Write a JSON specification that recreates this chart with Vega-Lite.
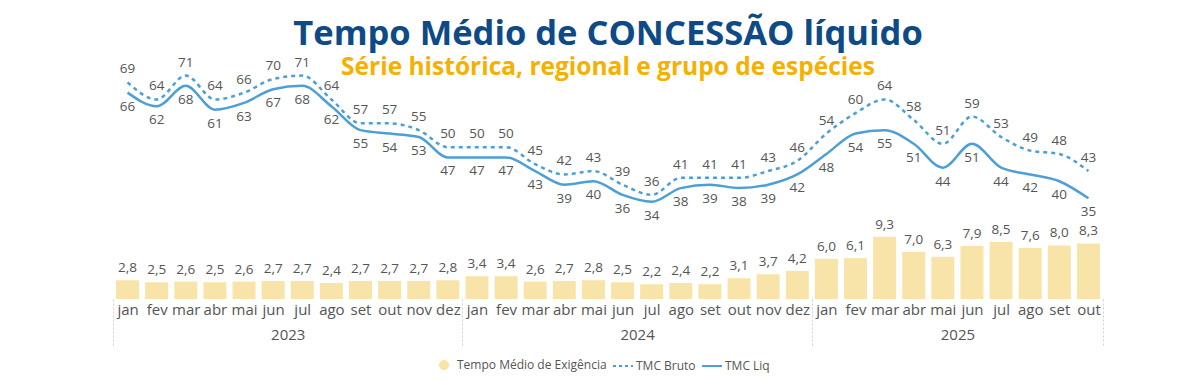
{
  "$schema": "https://vega.github.io/schema/vega-lite/v6.json",
  "width": 1000,
  "height": 205,
  "padding": {"left": 108, "top": 16, "right": 0, "bottom": 0},
  "config": {
    "view": {"stroke": null},
    "locale": {"number": {"decimal": ",", "thousands": ".", "grouping": [3], "currency": ["R$", ""]}},
    "font": "Open Sans"
  },
  "title": {
    "text": "Tempo Médio de CONCESSÃO líquido",
    "subtitle": "Série histórica, regional e grupo de espécies",
    "anchor": "middle",
    "font": "Open Sans",
    "fontSize": 34.5,
    "fontWeight": "bold",
    "color": "#0D4A86",
    "subtitleFont": "Open Sans",
    "subtitleFontSize": 24.5,
    "subtitleFontWeight": "bold",
    "subtitleColor": "#F5B000",
    "subtitlePadding": 4,
    "offset": -25
  },
  "data": {
    "values": [
      {"i": 0, "mes": "jan", "ano": 2023, "exig": 2.8, "bruto": 69, "liq": 66},
      {"i": 1, "mes": "fev", "ano": 2023, "exig": 2.5, "bruto": 64, "liq": 62},
      {"i": 2, "mes": "mar", "ano": 2023, "exig": 2.6, "bruto": 71, "liq": 68},
      {"i": 3, "mes": "abr", "ano": 2023, "exig": 2.5, "bruto": 64, "liq": 61},
      {"i": 4, "mes": "mai", "ano": 2023, "exig": 2.6, "bruto": 66, "liq": 63},
      {"i": 5, "mes": "jun", "ano": 2023, "exig": 2.7, "bruto": 70, "liq": 67},
      {"i": 6, "mes": "jul", "ano": 2023, "exig": 2.7, "bruto": 71, "liq": 68},
      {"i": 7, "mes": "ago", "ano": 2023, "exig": 2.4, "bruto": 64, "liq": 62},
      {"i": 8, "mes": "set", "ano": 2023, "exig": 2.7, "bruto": 57, "liq": 55},
      {"i": 9, "mes": "out", "ano": 2023, "exig": 2.7, "bruto": 57, "liq": 54},
      {"i": 10, "mes": "nov", "ano": 2023, "exig": 2.7, "bruto": 55, "liq": 53},
      {"i": 11, "mes": "dez", "ano": 2023, "exig": 2.8, "bruto": 50, "liq": 47},
      {"i": 12, "mes": "jan", "ano": 2024, "exig": 3.4, "bruto": 50, "liq": 47},
      {"i": 13, "mes": "fev", "ano": 2024, "exig": 3.4, "bruto": 50, "liq": 47},
      {"i": 14, "mes": "mar", "ano": 2024, "exig": 2.6, "bruto": 45, "liq": 43},
      {"i": 15, "mes": "abr", "ano": 2024, "exig": 2.7, "bruto": 42, "liq": 39},
      {"i": 16, "mes": "mai", "ano": 2024, "exig": 2.8, "bruto": 43, "liq": 40},
      {"i": 17, "mes": "jun", "ano": 2024, "exig": 2.5, "bruto": 39, "liq": 36},
      {"i": 18, "mes": "jul", "ano": 2024, "exig": 2.2, "bruto": 36, "liq": 34},
      {"i": 19, "mes": "ago", "ano": 2024, "exig": 2.4, "bruto": 41, "liq": 38},
      {"i": 20, "mes": "set", "ano": 2024, "exig": 2.2, "bruto": 41, "liq": 39},
      {"i": 21, "mes": "out", "ano": 2024, "exig": 3.1, "bruto": 41, "liq": 38},
      {"i": 22, "mes": "nov", "ano": 2024, "exig": 3.7, "bruto": 43, "liq": 39},
      {"i": 23, "mes": "dez", "ano": 2024, "exig": 4.2, "bruto": 46, "liq": 42},
      {"i": 24, "mes": "jan", "ano": 2025, "exig": 6.0, "bruto": 54, "liq": 48},
      {"i": 25, "mes": "fev", "ano": 2025, "exig": 6.1, "bruto": 60, "liq": 54},
      {"i": 26, "mes": "mar", "ano": 2025, "exig": 9.3, "bruto": 64, "liq": 55},
      {"i": 27, "mes": "abr", "ano": 2025, "exig": 7.0, "bruto": 58, "liq": 51},
      {"i": 28, "mes": "mai", "ano": 2025, "exig": 6.3, "bruto": 51, "liq": 44},
      {"i": 29, "mes": "jun", "ano": 2025, "exig": 7.9, "bruto": 59, "liq": 51},
      {"i": 30, "mes": "jul", "ano": 2025, "exig": 8.5, "bruto": 53, "liq": 44},
      {"i": 31, "mes": "ago", "ano": 2025, "exig": 7.6, "bruto": 49, "liq": 42},
      {"i": 32, "mes": "set", "ano": 2025, "exig": 8.0, "bruto": 48, "liq": 40},
      {"i": 33, "mes": "out", "ano": 2025, "exig": 8.3, "bruto": 43, "liq": 35}
    ]
  },
  "layer": [
    {
      "encoding": {
        "x": {
          "field": "i", "type": "quantitative",
          "scale": {"domain": [-0.5, 33.5], "nice": false, "zero": false},
          "axis": {
            "orient": "bottom",
            "values": [0,1,2,3,4,5,6,7,8,9,10,11,12,13,14,15,16,17,18,19,20,21,22,23,24,25,26,27,28,29,30,31,32,33],
            "labelExpr": "['jan','fev','mar','abr','mai','jun','jul','ago','set','out','nov','dez'][datum.value % 12]",
            "labelFont": "Open Sans",
            "labelFontSize": 15,
            "labelColor": "#555555",
            "labelPadding": 3,
            "labelFlush": false,
            "labelOverlap": false,
            "domain": false,
            "ticks": false,
            "grid": false,
            "title": null
          }
        },
        "y": {
          "field": "exig", "type": "quantitative",
          "scale": {"domain": [0, 30.6], "nice": false},
          "axis": null
        }
      },
      "layer": [
        {
          "mark": {"type": "bar", "size": 23},
          "encoding": {
            "color": {
              "datum": "Tempo Médio de Exigência",
              "type": "nominal",
              "scale": {
                "domain": ["Tempo Médio de Exigência", "TMC Bruto", "TMC Liq"],
                "range": ["#F8E4A8", "#4D9FD6", "#4D9FD6"]
              },
              "legend": {
                "orient": "none",
                "legendX": 325,
                "legendY": 260,
                "direction": "horizontal",
                "title": null,
                "labelFont": "Open Sans",
                "labelFontSize": 12,
                "labelColor": "#555555",
                "symbolSize": 400,
                "columnPadding": 2,
                "labelOffset": 2,
                "encode": {
                  "symbols": {
                    "update": {
                      "shape": {"signal": "datum.value === 'Tempo Médio de Exigência' ? 'circle' : 'stroke'"},
                      "size": {"signal": "datum.value === 'Tempo Médio de Exigência' ? 64 : 400"},
                      "fill": {"signal": "datum.value === 'Tempo Médio de Exigência' ? '#F8E4A8' : 'transparent'"},
                      "stroke": {"signal": "datum.value === 'Tempo Médio de Exigência' ? 'transparent' : '#4D9FD6'"},
                      "strokeWidth": {"value": 2},
                      "strokeDash": {"signal": "datum.value === 'TMC Bruto' ? [3, 3] : [1, 0]"},
                      "opacity": {"value": 1}
                    }
                  }
                }
              }
            }
          }
        },
        {
          "mark": {"type": "text", "baseline": "bottom", "dy": -5, "font": "Open Sans", "fontSize": 13.5, "color": "#555555"},
          "encoding": {"text": {"field": "exig", "type": "quantitative", "format": ".1f"}}
        }
      ]
    },
    {
      "encoding": {
        "x": {
          "field": "i", "type": "quantitative",
          "scale": {"domain": [-0.5, 33.5], "nice": false, "zero": false},
          "axis": {
            "orient": "bottom",
            "values": [-0.5, 5.5, 11.5, 17.5, 23.5, 28.5, 33.5],
            "labelExpr": "datum.value == 5.5 ? '2023' : datum.value == 17.5 ? '2024' : datum.value == 28.5 ? '2025' : ''",
            "labelFont": "Open Sans",
            "labelFontSize": 15,
            "labelColor": "#555555",
            "labelPadding": -18,
            "labelFlush": false,
            "labelOverlap": false,
            "domain": false,
            "ticks": true,
            "tickSize": 46,
            "tickColor": "#D0D0D0",
            "tickDash": [2, 2],
            "tickWidth": 1,
            "tickOpacity": {"condition": {"test": "datum.value == 5.5 || datum.value == 17.5 || datum.value == 28.5", "value": 0}, "value": 1},
            "grid": false,
            "title": null
          }
        }
      },
      "layer": [
        {
          "mark": {"type": "line", "interpolate": "monotone", "strokeWidth": 2.5, "strokeDash": [4, 4]},
          "encoding": {
            "y": {"field": "bruto", "type": "quantitative", "scale": {"domain": [5.47, 65.6], "nice": false, "zero": false}, "axis": null},
            "color": {"datum": "TMC Bruto", "type": "nominal"}
          }
        },
        {
          "mark": {"type": "line", "interpolate": "monotone", "strokeWidth": 2.5},
          "encoding": {
            "y": {"field": "liq", "type": "quantitative"},
            "color": {"datum": "TMC Liq", "type": "nominal"}
          }
        },
        {
          "mark": {"type": "text", "baseline": "middle", "dy": -13, "font": "Open Sans", "fontSize": 13.5, "color": "#555555"},
          "encoding": {
            "y": {"field": "bruto", "type": "quantitative"},
            "text": {"field": "bruto", "type": "quantitative"}
          }
        },
        {
          "mark": {"type": "text", "baseline": "middle", "dy": 14, "font": "Open Sans", "fontSize": 13.5, "color": "#555555"},
          "encoding": {
            "y": {"field": "liq", "type": "quantitative"},
            "text": {"field": "liq", "type": "quantitative"}
          }
        }
      ]
    }
  ],
  "resolve": {"scale": {"y": "independent"}, "axis": {"x": "independent"}}
}
